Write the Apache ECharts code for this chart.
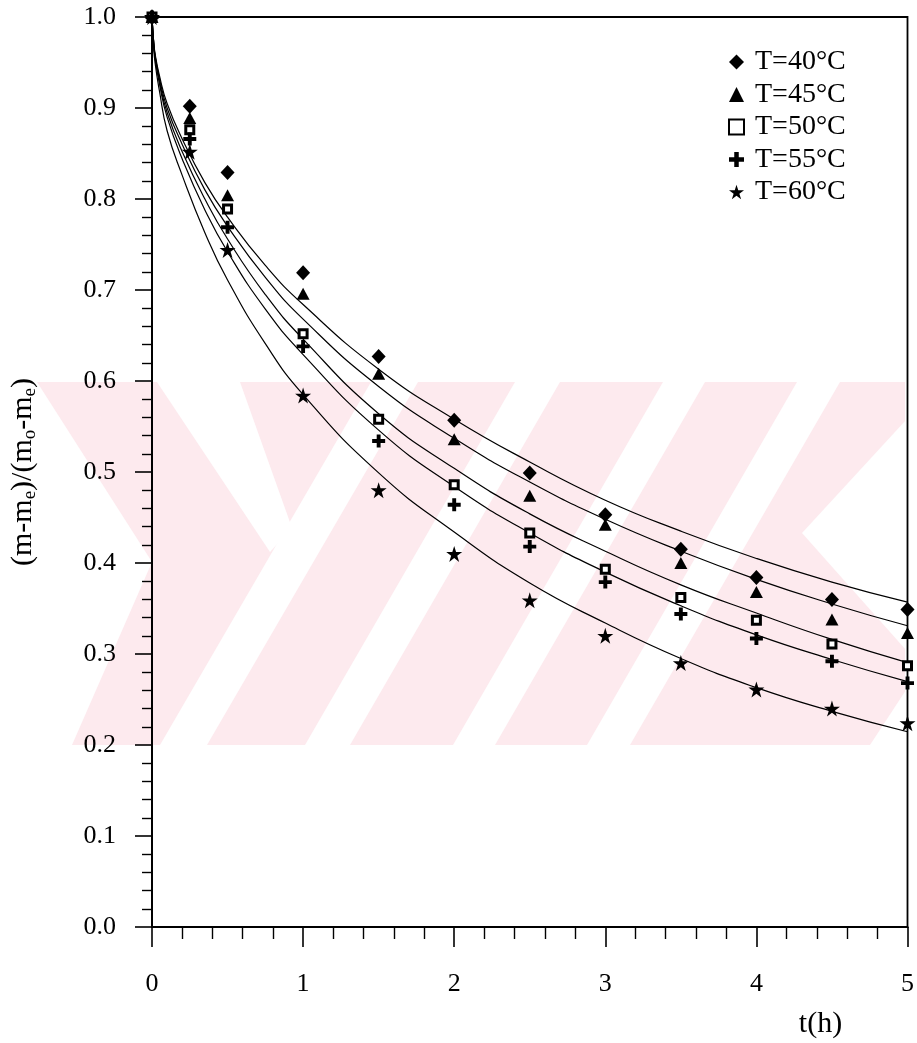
<!DOCTYPE html>
<html>
<head>
<meta charset="utf-8">
<script src="https://cdn.jsdelivr.net/npm/echarts@6/dist/echarts.min.js"></script>
<style>
  html, body { margin: 0; padding: 0; background: #fff; }
  #chart { width: 917px; height: 1043px; }
</style>
</head>
<body>
<div id="chart"></div>
<script>
// Drying time (h) at which moisture ratio was measured
const tHours = [0, 0.25, 0.5, 1, 1.5, 2, 2.5, 3, 3.5, 4, 4.5, 5];

// Measured moisture ratio (m-me)/(mo-me) for each air temperature
const mr40 = [1.0, 0.902, 0.829, 0.719, 0.627, 0.557, 0.499, 0.453, 0.415, 0.384, 0.360, 0.349];
const mr45 = [1.0, 0.889, 0.804, 0.696, 0.608, 0.536, 0.474, 0.442, 0.400, 0.368, 0.338, 0.323];
const mr50 = [1.0, 0.876, 0.789, 0.652, 0.558, 0.486, 0.433, 0.393, 0.362, 0.337, 0.311, 0.287];
const mr55 = [1.0, 0.866, 0.769, 0.638, 0.534, 0.464, 0.418, 0.379, 0.344, 0.317, 0.292, 0.268];
const mr60 = [1.0, 0.852, 0.744, 0.584, 0.480, 0.410, 0.359, 0.320, 0.290, 0.261, 0.240, 0.224];

// Fitted model curves, sampled along time
const fitT  = [0, 0.01, 0.02, 0.05, 0.1, 0.2, 0.35, 0.5, 0.75, 1, 1.5, 2, 2.5, 3, 3.5, 4, 4.5, 5];
const fit40 = [1, 0.975, 0.960, 0.935, 0.905, 0.866, 0.818, 0.780, 0.727, 0.684, 0.613, 0.558, 0.511, 0.469, 0.435, 0.405, 0.379, 0.357];
const fit45 = [1, 0.975, 0.958, 0.932, 0.900, 0.860, 0.810, 0.770, 0.714, 0.668, 0.594, 0.537, 0.489, 0.448, 0.413, 0.382, 0.355, 0.331];
const fit50 = [1, 0.974, 0.957, 0.929, 0.895, 0.852, 0.800, 0.756, 0.695, 0.646, 0.564, 0.504, 0.454, 0.413, 0.376, 0.345, 0.316, 0.2905];
const fit55 = [1, 0.973, 0.955, 0.926, 0.890, 0.844, 0.788, 0.742, 0.679, 0.629, 0.546, 0.484, 0.433, 0.390, 0.353, 0.321, 0.294, 0.2696];
const fit60 = [1, 0.970, 0.950, 0.918, 0.875, 0.826, 0.763, 0.711, 0.641, 0.585, 0.499, 0.434, 0.378, 0.334, 0.295, 0.263, 0.237, 0.2146];

// Series labels
const seriesNames = ['T=40°C', 'T=45°C', 'T=50°C', 'T=55°C', 'T=60°C'];

const FONT = "'Liberation Serif', 'DejaVu Serif', serif";

const SYM_PLUS = 'path://M35,0H65V35H100V65H65V100H35V65H0V35H35Z';
const SYM_STAR = 'path://M50,0L61.2,34.5H97.6L68.2,55.9L79.4,90.5L50,69.1L20.6,90.5L31.8,55.9L2.4,34.5H38.8Z';

const markers = [
  { symbol: 'diamond', size: [14, 15], style: { color: '#000' } },
  { symbol: 'triangle', size: [13, 12], style: { color: '#000' } },
  { symbol: 'rect', size: [8, 8], style: { color: '#fff', borderColor: '#000', borderWidth: 3 } },
  { symbol: SYM_PLUS, size: [13, 13], style: { color: '#000' } },
  { symbol: SYM_STAR, size: [16, 16], style: { color: '#000' } }
];

const measured = [mr40, mr45, mr50, mr55, mr60];
const fitted = [fit40, fit45, fit50, fit55, fit60];

const pairs = (xs, ys) => xs.map((x, i) => [x, ys[i]]);

const series = [];
fitted.forEach((ys, i) => {
  series.push({
    name: 'fit ' + seriesNames[i],
    type: 'line',
    data: pairs(fitT, ys),
    showSymbol: false,
    symbol: 'none',
    smooth: 0.5,
    lineStyle: { color: '#000', width: 1.2 },
    silent: true,
    z: 3
  });
});
measured.forEach((ys, i) => {
  series.push({
    name: seriesNames[i],
    type: 'scatter',
    data: pairs(tHours, ys),
    symbol: markers[i].symbol,
    symbolSize: markers[i].size,
    itemStyle: Object.assign({ opacity: 1 }, markers[i].style),
    z: 5
  });
});

// Light pink background emblem behind the plot
const PINK = '#fdeaee';
const band = { x0: 35, x1: 905, y0: 382, y1: 745 };
const gaps = [
  [[20, 382], [37, 382], [152, 562], [72, 745], [20, 745]],
  [[157, 382], [240, 382], [292, 528], [270, 552]],
  [[160, 745], [207, 745], [418, 382], [371, 382]],
  [[305, 745], [350, 745], [560, 382], [515, 382]],
  [[453, 745], [495, 745], [705, 382], [663, 382]],
  [[587, 745], [630, 745], [840, 382], [797, 382]],
  [[906, 420], [802, 533], [906, 650]],
  [[870, 745], [906, 745], [906, 690]]
];
const graphics = [{
  type: 'rect', z: -10, silent: true,
  shape: { x: band.x0, y: band.y0, width: band.x1 - band.x0, height: band.y1 - band.y0 },
  style: { fill: PINK }
}].concat(gaps.map(p => ({
  type: 'polygon', z: -9, silent: true,
  shape: { points: p },
  style: { fill: '#fff' }
})));

const chart = echarts.init(document.getElementById('chart'), null, { renderer: 'canvas' });
chart.setOption({
  backgroundColor: '#fff',
  animation: false,
  graphic: graphics,
  grid: {
    left: 152, right: 7, top: 17, bottom: 116,
    show: true, borderColor: '#000', borderWidth: 1.8, backgroundColor: 'transparent'
  },
  legend: {
    data: seriesNames,
    orient: 'vertical',
    left: 723,
    top: 43,
    itemWidth: 15,
    itemHeight: 15,
    itemGap: 4.5,
    textStyle: { fontFamily: FONT, fontSize: 28, color: '#000', lineHeight: 28, padding: [0, 0, 0, 6] }
  },
  xAxis: {
    type: 'value',
    min: 0, max: 5, interval: 1,
    name: 't(h)',
    nameLocation: 'end',
    nameGap: -87,
    nameTextStyle: { fontFamily: FONT, fontSize: 30, color: '#000', align: 'center', verticalAlign: 'top', padding: [82, 0, 0, 0] },
    axisLine: { show: true, onZero: false, lineStyle: { color: '#000', width: 2 } },
    axisTick: { show: true, inside: false, length: 20, lineStyle: { color: '#000', width: 1.6 } },
    minorTick: { show: true, splitNumber: 5, length: 12, lineStyle: { color: '#000', width: 1.4 } },
    splitLine: { show: false },
    minorSplitLine: { show: false },
    axisLabel: { margin: 44, fontFamily: FONT, fontSize: 26, color: '#000' }
  },
  yAxis: {
    type: 'value',
    min: 0, max: 1, interval: 0.1,
    name: '(m-m{s|e})/(m{s|o}-m{s|e})',
    nameLocation: 'middle',
    nameRotate: 90,
    nameGap: 112,
    nameTextStyle: {
      fontFamily: FONT, fontSize: 30, color: '#000',
      rich: { s: { fontFamily: FONT, fontSize: 19, color: '#000', padding: [14, 0, 0, 0] } }
    },
    axisLine: { show: true, onZero: false, lineStyle: { color: '#000', width: 2 } },
    axisTick: { show: true, inside: false, length: 17, lineStyle: { color: '#000', width: 1.6 } },
    minorTick: { show: true, splitNumber: 5, length: 10, lineStyle: { color: '#000', width: 1.4 } },
    splitLine: { show: false },
    minorSplitLine: { show: false },
    axisLabel: { margin: 36, fontFamily: FONT, fontSize: 26, color: '#000', formatter: v => v.toFixed(1) }
  },
  series: series
});
</script>
</body>
</html>
